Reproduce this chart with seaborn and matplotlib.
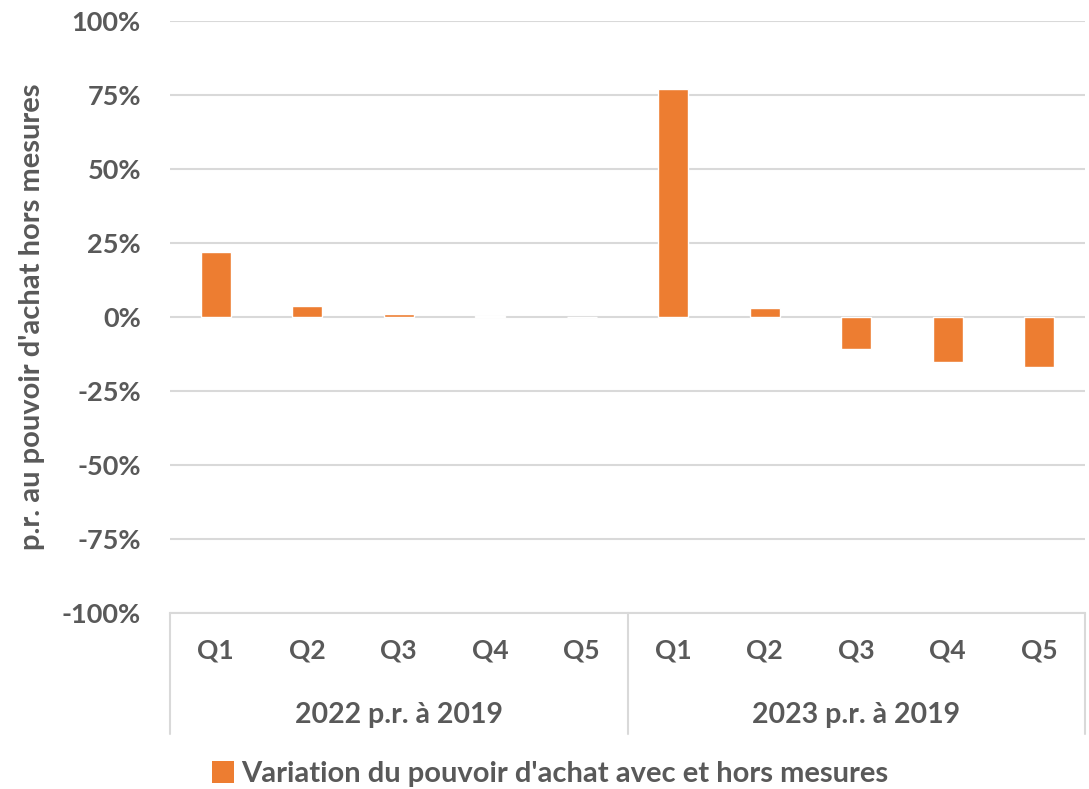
import matplotlib
matplotlib.use("Agg")
import matplotlib.pyplot as plt
import matplotlib.transforms as mtransforms
from matplotlib.patches import Patch
import seaborn as sns
import pandas as pd

# Data: purchasing-power change by income quintile
quintiles = ["Q1", "Q2", "Q3", "Q4", "Q5"]
groups = ["2022 p.r. à 2019", "2023 p.r. à 2019"]
values_2022 = [22.1, 3.7, 0.9, 0.2, 0.0]
values_2023 = [77.0, 2.9, -10.8, -15.3, -16.9]
series_name = "Variation du pouvoir d'achat avec et hors mesures"
y_label = "p.r. au pouvoir d'achat hors mesures"
y_ticks = [-100, -75, -50, -25, 0, 25, 50, 75, 100]

sns.set_theme(style="white")
plt.rcParams["font.family"] = ["Lato", "DejaVu Sans"]

text_color = "#595959"
grid_color = "#D9D9D9"
bar_color = "#ED7D31"

keys, vals = [], []
for g, series in zip(groups, [values_2022, values_2023]):
    for q, v in zip(quintiles, series):
        keys.append(f"{g}|{q}")
        vals.append(v)
df = pd.DataFrame({"key": keys, "value": vals})

fig = plt.figure(figsize=(10.89, 7.89), dpi=100)
ax = fig.add_axes([170 / 1089, 1 - 613 / 789, (1085 - 170) / 1089, (613 - 21) / 789])

sns.barplot(data=df, x="key", y="value", order=keys, color=bar_color,
            width=0.33, saturation=1, ax=ax, zorder=3)

ax.set_ylim(-100, 100)
ax.set_xlim(-0.5, len(keys) - 0.5)
ax.set_yticks(y_ticks)
ax.set_yticklabels([f"{t}%" for t in y_ticks], fontsize=19.5, fontweight="bold", color=text_color)
ax.yaxis.grid(True, color=grid_color, linewidth=1.5, zorder=0)
ax.set_axisbelow(True)
for s in ["top", "right", "left"]:
    ax.spines[s].set_visible(False)
ax.spines["bottom"].set_color(grid_color)
ax.spines["bottom"].set_linewidth(1.5)
ax.tick_params(axis="y", length=0, pad=21)
ax.tick_params(axis="x", length=0, pad=18)

ax.set_xticks(range(len(keys)))
ax.set_xticklabels([k.split("|")[1] for k in keys], fontsize=19,
                   fontweight="bold", color=text_color)
ax.set_xlabel("")
ax.set_ylabel(y_label, fontsize=21, fontweight="bold", color=text_color, labelpad=12)

# Second level of the category axis: group names and separators
trans = mtransforms.blended_transform_factory(ax.transData, ax.transAxes)
for i, g in enumerate(groups):
    center = i * len(quintiles) + (len(quintiles) - 1) / 2
    ax.text(center, -0.172, g, transform=trans, ha="center", va="center",
            fontsize=20.5, fontweight="bold", color=text_color)
for xb in [-0.5, len(quintiles) - 0.5, len(keys) - 0.5]:
    ax.plot([xb, xb], [0, -0.205], transform=trans, color=grid_color,
            linewidth=1.5, clip_on=False)

handle = Patch(facecolor=bar_color, edgecolor="none")
fig.legend([handle], [series_name], loc="center", bbox_to_anchor=(0.505, 1 - 774 / 789),
           frameon=False, handlelength=0.75, handleheight=0.75, handletextpad=0.25,
           prop={"size": 21, "weight": "bold"}, labelcolor=text_color)

fig.savefig("out.png", dpi=100)
